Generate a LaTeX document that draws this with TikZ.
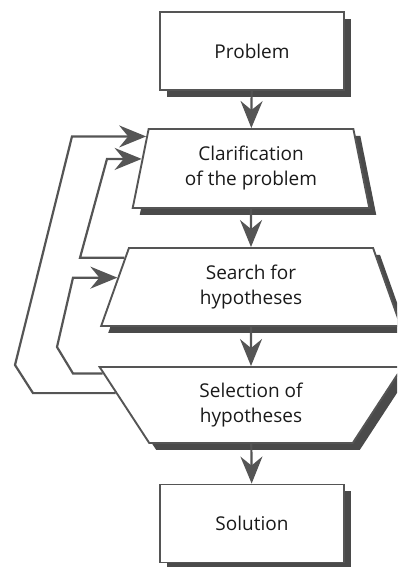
\documentclass[tikz,border=0pt]{standalone}
\usepackage{fontspec}
\setmainfont{Open Sans}
\usetikzlibrary{arrows.meta,shapes.geometric,shadows}
\definecolor{linegray}{HTML}{555555}
\definecolor{shadowgray}{HTML}{4A4A4A}
\definecolor{textgray}{HTML}{1A1A1A}
\begin{document}
\begin{tikzpicture}[x=1pt,y=1pt,
        font=\fontsize{19}{25}\selectfont, text=textgray,
        box/.style={draw=linegray, line width=1.9pt, fill=white, align=center,
          drop shadow={shadow xshift=7pt, shadow yshift=-7pt, opacity=1, fill=shadowgray}},
        endbox/.style={box, rectangle, minimum width=184pt, minimum height=78pt},
        stagebox/.style={box, trapezium, trapezium stretches=true},
        flow/.style={draw=linegray, line width=2.2pt, -{Stealth[length=27pt,width=22pt,inset=9pt]}},
        back/.style={flow, line join=miter}]
        \useasboundingbox (0,0) rectangle (397,567);
        \clip (0,0) rectangle (397,567);
        % stages
        \node[endbox] (problem) at (252,516) {Problem};
        \node[stagebox, trapezium left angle=78, trapezium right angle=78,
          minimum width=237pt, minimum height=79pt] (clar) at (251,398.5)
          {Clarification\\of the problem};
        \node[stagebox, trapezium left angle=76.3, trapezium right angle=76.3,
          minimum width=300pt, minimum height=78pt] (search) at (251,280)
          {Search for\\hypotheses};
        \node[stagebox, trapezium left angle=117.8, trapezium right angle=117.8,
          minimum width=303pt, minimum height=76pt] (sel) at (251,162)
          {Selection of\\hypotheses};
        \node[endbox] (solution) at (252,43.5) {Solution};
        % bends of the loops
        \coordinate (ob) at (33,0);
        \coordinate (oc) at (15,202);
        \coordinate (ot) at (72,0);
        \coordinate (ib) at (80,0);
        \coordinate (it) at (107,0);
        \coordinate (jb) at (73,0);
        \coordinate (jc) at (57,220);
        \coordinate (jt) at (73,0);
        % main flow
        \draw[flow] (problem) -- (clar);
        \draw[flow] (clar) -- (search);
        \draw[flow] (search) -- (sel);
        \draw[flow] (sel) -- (solution);
        % loops back
        \draw[back] (sel.175.8) -- (ob |- sel.175.8) -- (oc)
          -- (ot |- clar.163.6) -- (clar.163.6);
        \draw[back] (search.167.7) -- (ib |- search.167.7)
          -- (it |- clar.175) -- (clar.175);
        \draw[back] (sel.168.5) -- (jb |- sel.168.5) -- (jc)
          -- (jt |- search.176.3) -- (search.176.3);
      \end{tikzpicture}
\end{document}
